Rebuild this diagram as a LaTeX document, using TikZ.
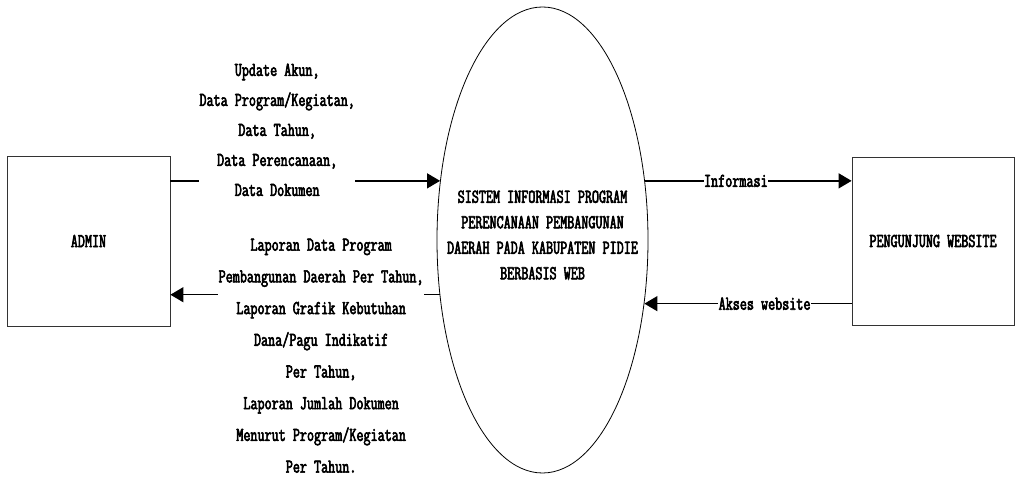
\documentclass[tikz,border=0pt]{standalone}
\usepackage{fontspec}
\newfontfamily\courf[FakeStretch=0.70, FakeBold=3]{Latin Modern Mono}
\usetikzlibrary{shapes.geometric,arrows.meta}
\begin{document}
\begin{tikzpicture}[x=1pt,y=1pt,
  basefont/.style={font=\courf\fontsize{19.6}{20}\selectfont},
  ent/.style={draw=black!80, line width=0.8pt, basefont},
  proc/.style={align=center, font=\courf\fontsize{19.6}{25.5}\selectfont},
  flow/.style={line width=1.3pt, -{Triangle[length=13pt,width=15pt]}},
  lblA/.style={fill=white, align=center, inner xsep=0.5pt, inner ysep=1pt, font=\courf\fontsize{19.6}{30}\selectfont},
  lblB/.style={fill=white, align=center, inner xsep=0.5pt, inner ysep=1pt, font=\courf\fontsize{19.6}{31.7}\selectfont},
  lblC/.style={fill=white, inner xsep=0.5pt, inner ysep=1pt, basefont}
]
\useasboundingbox (0,0) rectangle (1015,479);
\node[ent, minimum width=163pt, minimum height=170pt] (admin) at (88.5,238) {ADMIN};
\node[ent, minimum width=162pt, minimum height=168pt] (pw) at (933,238) {PENGUNJUNG WEBSITE};
\node[ellipse, draw, line width=0.8pt, minimum width=211pt, minimum height=466pt, inner sep=0pt,
  label={[proc, yshift=5pt]center:SISTEM INFORMASI PROGRAM\\PERENCANAAN PEMBANGUNAN\\DAERAH PADA KABUPATEN PIDIE\\BERBASIS WEB}] (sys) at (542.5,239) {};
\draw[flow] (sys.150 -| admin.east) -- (sys.150)
  node[lblA, pos=0.396, yshift=51pt] {Update Akun,\\Data Program/Kegiatan,\\Data Tahun,\\Data Perencanaan,\\Data Dokumen};
\draw[flow] (sys.208) -- (sys.208 -| admin.east)
  node[lblB, pos=0.44, yshift=-61pt] {Laporan Data Program\\Pembangunan Daerah Per Tahun,\\Laporan Grafik Kebutuhan\\Dana/Pagu Indikatif\\Per Tahun,\\Laporan Jumlah Dokumen\\Menurut Program/Kegiatan\\Per Tahun.};
\draw[flow] (sys.30) -- (sys.30 -| pw.west) node[lblC, pos=0.44] {Informasi};
\draw[flow] (sys.328 -| pw.west) -- (sys.328) node[lblC, pos=0.42] {Akses website};
\end{tikzpicture}
\end{document}
